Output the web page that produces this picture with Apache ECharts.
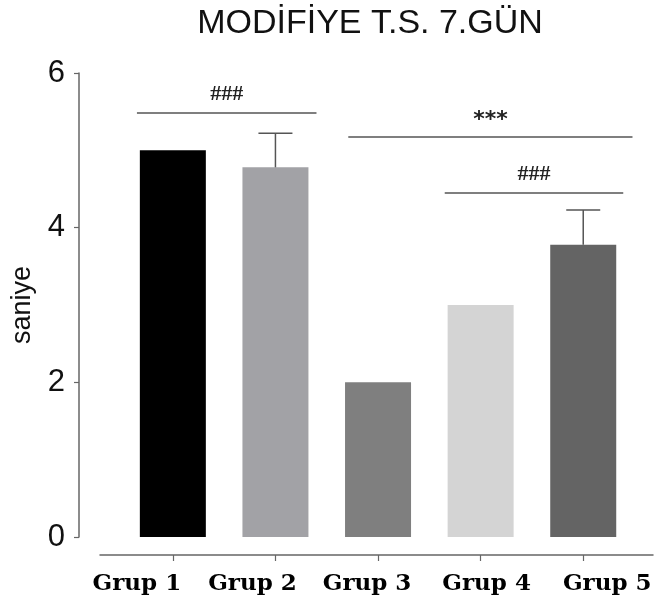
<!DOCTYPE html>
<html><head><meta charset="utf-8">
<script src="https://cdn.jsdelivr.net/npm/echarts@6/dist/echarts.min.js"></script>
<style>html,body{margin:0;padding:0;background:#fff}#c{width:656px;height:606px}</style>
</head><body><div id="c"></div>
<script>
// ---- data ----
const TITLE = 'MODİFİYE T.S. 7.GÜN';
const Y_NAME = 'saniye';
const CATEGORIES = ['Grup 1', 'Grup 2', 'Grup 3', 'Grup 4', 'Grup 5'];
const MEANS = [5, 4.78, 2, 3, 3.78];
const SEM = [0, 0.44, 0, 0, 0.45];
const BAR_COLORS = ['#000000', '#a2a2a6', '#7f7f7f', '#d4d4d4', '#646464'];
const Y_MIN = 0, Y_MAX = 6, Y_STEP = 2;
// significance brackets (in axis units)
const SIG_LABELS = ['###', '***', '###'];
const SIG_FROM = [-0.35, 1.71, 2.65];
const SIG_TO = [1.40, 4.48, 4.39];
const SIG_Y = [5.48, 5.17, 4.45];
// label horizontal shifts (px) as in the reference
const LABEL_SHIFT = [-36, -23, -11, 6, 24];

// ---- build ----
const idx = CATEGORIES.map((_, i) => i);
const barData = MEANS.map((v, i) => ({ value: [i, v], itemStyle: { color: BAR_COLORS[i] } }));
const errData = MEANS.map((v, i) => [i, v, v + SEM[i]]).filter((d, i) => SEM[i] > 0);

const rich = {};
LABEL_SHIFT.forEach((s, i) => {
  rich['s' + i] = {
    fontFamily: 'DejaVu Serif', fontWeight: 'bold', fontSize: 23, color: '#000',
    padding: s < 0 ? [0, -2 * s, 0, 0] : [0, 0, 0, 2 * s]
  };
});

const sigLabelStyle = lab => lab === '***'
  ? { fontFamily: 'DejaVu Sans', fontWeight: 'bold', fontSize: 22, color: '#222', distance: 6 }
  : { fontFamily: 'Liberation Serif', fontWeight: 'bold', fontSize: 22, color: '#222', distance: 8 };

const chart = echarts.init(document.getElementById('c'), null, { renderer: 'canvas' });
chart.setOption({
  animation: false,
  backgroundColor: '#fff',
  title: {
    text: TITLE, left: 365, top: 2, textAlign: 'center',
    textStyle: { fontFamily: 'Liberation Sans', fontWeight: 'normal', fontSize: 34, color: '#111' }
  },
  grid: { left: 100, right: 3, top: 73, bottom: 69, containLabel: false },
  xAxis: {
    type: 'value', min: -0.71, max: 4.68, offset: 18,
    axisLine: { show: true, onZero: false, lineStyle: { color: '#666', width: 1.5 } },
    axisTick: { show: true, customValues: idx, length: 6, lineStyle: { color: '#666', width: 1.2 } },
    axisLabel: {
      customValues: idx, margin: 18,
      formatter: v => '{s' + Math.round(v) + '|' + CATEGORIES[Math.round(v)] + '}',
      rich: rich
    },
    splitLine: { show: false }
  },
  yAxis: {
    type: 'value', min: Y_MIN, max: Y_MAX, interval: Y_STEP, offset: 21,
    name: Y_NAME, nameLocation: 'middle', nameRotate: 90, nameGap: 43,
    nameTextStyle: { fontFamily: 'Liberation Sans', fontSize: 27, color: '#111' },
    axisLine: { show: true, onZero: false, lineStyle: { color: '#666', width: 1.5 } },
    axisTick: { show: true, length: 5, lineStyle: { color: '#666', width: 1.2 } },
    axisLabel: { fontFamily: 'Liberation Sans', fontSize: 31, color: '#111', margin: 14 },
    splitLine: { show: false }
  },
  series: [
    {
      type: 'bar', data: barData, barWidth: 66, z: 2,
      markLine: {
        silent: true, symbol: 'none',
        lineStyle: { color: '#555', width: 1.5, type: 'solid' },
        label: { show: true, position: 'middle', formatter: p => p.name },
        data: SIG_LABELS.map((lab, i) => [
          { name: lab, coord: [SIG_FROM[i], SIG_Y[i]], label: Object.assign({ show: true, position: 'middle', formatter: p => p.name }, sigLabelStyle(lab)) },
          { coord: [SIG_TO[i], SIG_Y[i]] }
        ])
      }
    },
    {
      type: 'custom', data: errData, z: 3,
      encode: { x: 0, y: [1, 2] },
      renderItem: (params, api) => {
        const x = api.value(0);
        const lo = api.coord([x, api.value(1)]);
        const hi = api.coord([x, api.value(2)]);
        const st = { stroke: '#555', lineWidth: 1.5 };
        return {
          type: 'group', children: [
            { type: 'line', shape: { x1: lo[0], y1: lo[1], x2: hi[0], y2: hi[1] }, style: st },
            { type: 'line', shape: { x1: hi[0] - 17, y1: hi[1], x2: hi[0] + 17, y2: hi[1] }, style: st }
          ]
        };
      }
    }
  ]
});
</script></body></html>
